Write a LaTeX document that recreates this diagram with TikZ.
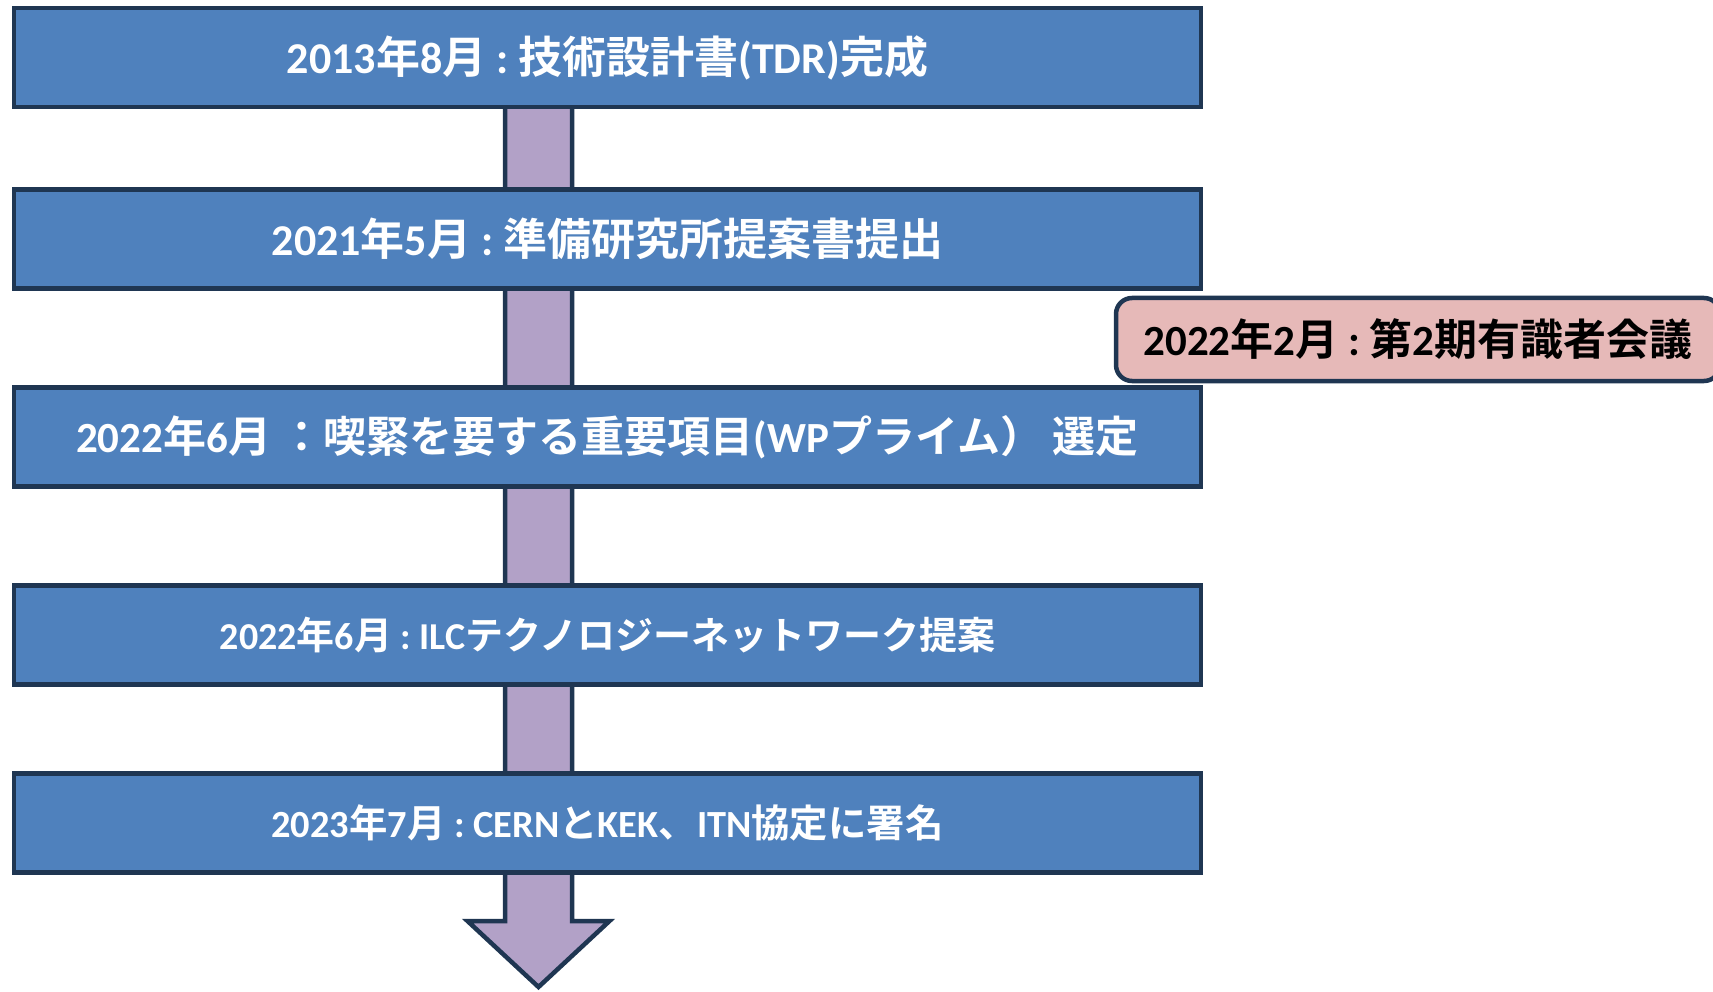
\documentclass[tikz,border=0pt]{standalone}
\usepackage{fontspec}
\setmainfont{Noto Sans CJK JP}[BoldFont={Noto Sans CJK JP Bold}]
\newfontfamily\latf{Carlito}
\usetikzlibrary{calc}
\newcommand\la[1]{{\latf #1}}
\definecolor{navy}{HTML}{1F3652}
\definecolor{boxblue}{HTML}{4F81BD}
\definecolor{arrowlav}{HTML}{B2A1C7}
\definecolor{notepink}{HTML}{E6B9B8}
\tikzset{
  stepbox/.style={draw=navy, line width=4.5pt, fill=boxblue, minimum width=1187pt,
    minimum height=99pt, inner sep=0pt, text=white},
  notebox/.style={draw=navy, line width=4.5pt, fill=notepink, rounded corners=16pt,
    minimum width=604pt, minimum height=83pt, inner sep=0pt, text=black},
  flowarrow/.style={draw=navy, fill=arrowlav, line width=4.5pt, line join=miter},
  big/.style={font=\bfseries\fontsize{44}{50}\selectfont},
  wide/.style={font=\bfseries\fontsize{43}{48}\selectfont},
  mid/.style={font=\bfseries\fontsize{38}{44}\selectfont},
  small/.style={font=\bfseries\fontsize{38.4}{44}\selectfont},
  notefont/.style={font=\bfseries\fontsize{43}{48}\selectfont}
}
\begin{document}
\begin{tikzpicture}[x=1pt,y=1pt]
\useasboundingbox (0,0) rectangle (1713,-992);
\coordinate (stemtop) at (538.5,-100);
\coordinate (tip) at (538.5,-987);
\coordinate (headmid) at (538.5,-921);
\draw[flowarrow] ($(stemtop)+(-33.5,0)$) -- ($(headmid)+(-33.5,0)$) -- ($(headmid)+(-71,0)$)
  -- (tip) -- ($(headmid)+(71,0)$) -- ($(headmid)+(33.5,0)$) -- ($(stemtop)+(33.5,0)$) -- cycle;
\node[stepbox, big] (b1) at (607.5,-57.5) {\la{2013}年\la{8}月\la{\ :\ }技術設計書\la{(TDR)}完成};
\node[stepbox, big] (b2) at (607.5,-239) {\la{2021}年\la{5}月\la{\ :\ }準備研究所提案書提出};
\node[stepbox, wide] (b3) at (607.5,-437) {\la{2022}年\la{6}月\la{\ }：喫緊を要する重要項目\la{(WP}プライム）\la{\ }選定};
\node[stepbox, mid] (b4) at (607.5,-635) {\la{2022}年\la{6}月\la{\ :\ }\la{ILC}テクノロジーネットワーク提案};
\node[stepbox, small] (b5) at (607.5,-823) {\la{2023}年\la{7}月\la{\ :\ }\la{CERN}と\la{KEK}、\la{ITN}協定に署名};
\node[notebox, notefont] (p) at (1418,-339.5) {\la{2022}年\la{2}月\la{\ :\ }第\la{2}期有識者会議};
\end{tikzpicture}
\end{document}
